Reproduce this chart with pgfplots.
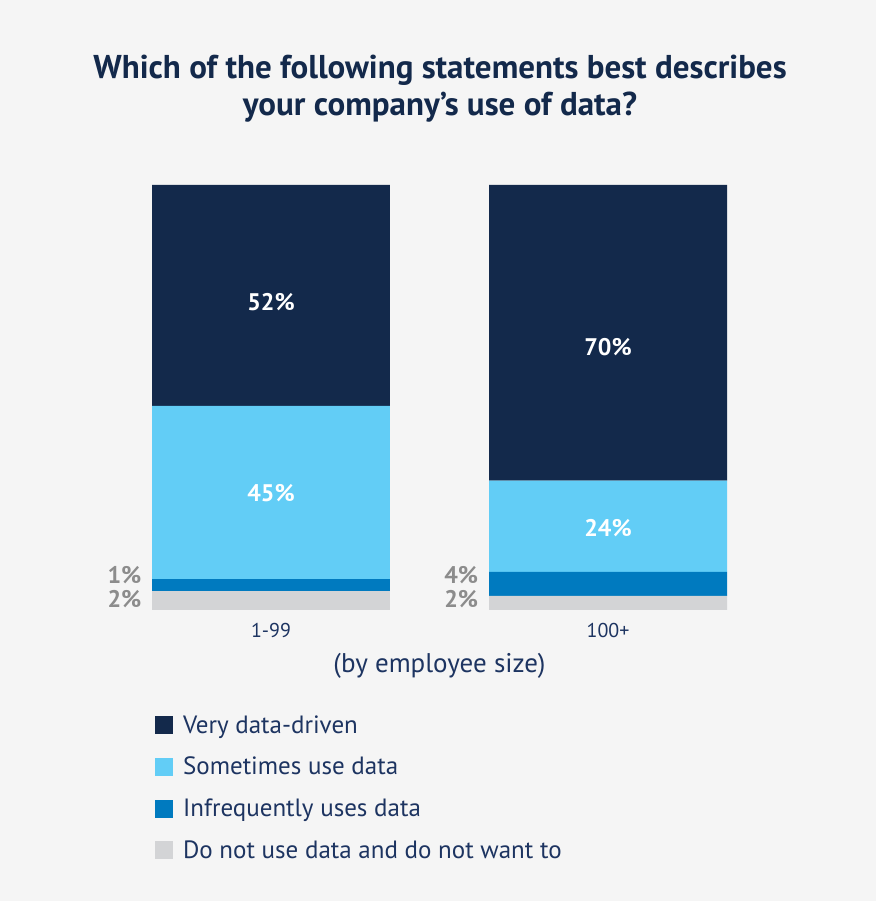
\documentclass[border=0pt]{standalone}
\usepackage{pgfplots}
\pgfplotsset{compat=1.18}
\usepackage{pgfplotstable}
\usepackage{fontspec}
\setmainfont{PT Sans}
\definecolor{bgc}{HTML}{F5F5F5}
\definecolor{navy}{HTML}{13294B}
\definecolor{lblue}{HTML}{62CDF6}
\definecolor{mblue}{HTML}{007ABF}
\definecolor{lgray}{HTML}{D3D4D6}
\definecolor{txt}{HTML}{1D3461}
\definecolor{ggray}{HTML}{8C8C8C}
% segment heights as drawn (percent of bar height); labels are the reported shares
\pgfplotstableread{
x  none  infreq  some   very
0  4.47  2.82    40.71  52.00
1  3.30  5.66    21.46  69.58
}\datatable
\begin{document}
\begin{tikzpicture}[x=1pt,y=1pt]
\fill[bgc] (0,0) rectangle (876,901);
\node[text=navy,font=\fontsize{33}{37}\selectfont\bfseries,align=center] at (440,812) {Which of the following statements best describes\\your company’s use of data?};
\begin{axis}[
  at={(152pt,291pt)}, anchor=south west,
  scale only axis, width=575pt, height=425pt,
  xmin=-0.353, xmax=1.353, ymin=0, ymax=100,
  ybar stacked, bar width=238pt,
  axis line style={draw=none}, tick style={draw=none},
  ytick=\empty, xtick={0,1}, xticklabels={1-99,100+},
  xticklabel style={font=\fontsize{20}{24}\selectfont, text=txt, yshift=-10pt},
  xlabel={(by employee size)},
  xlabel style={font=\fontsize{27}{30}\selectfont, text=txt, yshift=-8pt},
  legend style={at={(0.005,-0.243)}, anchor=north west, draw=none, fill=none,
    font=\fontsize{25}{30}\selectfont, text=txt, row sep=18.5pt, inner sep=0pt,
    /tikz/every odd column/.append style={column sep=8pt}},
  legend cell align=left,
  reverse legend,
  legend image code/.code={\fill[#1] (0pt,-9pt) rectangle (18pt,9pt);},
]
\addplot[fill=lgray, draw=none] table[x=x,y=none] {\datatable};
\addlegendentry{Do not use data and do not want to}
\addplot[fill=mblue, draw=none] table[x=x,y=infreq] {\datatable};
\addlegendentry{Infrequently uses data}
\addplot[fill=lblue, draw=none] table[x=x,y=some] {\datatable};
\addlegendentry{Sometimes use data}
\addplot[fill=navy, draw=none] table[x=x,y=very] {\datatable};
\addlegendentry{Very data-driven}
\coordinate (a1) at (axis cs:0,72.5);
\coordinate (a2) at (axis cs:0,27.6);
\coordinate (b1) at (axis cs:1,61.8);
\coordinate (b2) at (axis cs:1,19.3);
\coordinate (c1) at (axis cs:-0.374,8.2);
\coordinate (c2) at (axis cs:-0.374,2.6);
\coordinate (d1) at (axis cs:0.625,8.2);
\coordinate (d2) at (axis cs:0.625,2.6);
\end{axis}
\begin{scope}[every node/.style={font=\fontsize{24}{28}\selectfont\bfseries}]
\node[text=white] at (a1) {52\%};
\node[text=white] at (a2) {45\%};
\node[text=white] at (b1) {70\%};
\node[text=white] at (b2) {24\%};
\node[text=ggray,anchor=east] at (c1) {1\%};
\node[text=ggray,anchor=east] at (c2) {2\%};
\node[text=ggray,anchor=east] at (d1) {4\%};
\node[text=ggray,anchor=east] at (d2) {2\%};
\end{scope}
\end{tikzpicture}
\end{document}
